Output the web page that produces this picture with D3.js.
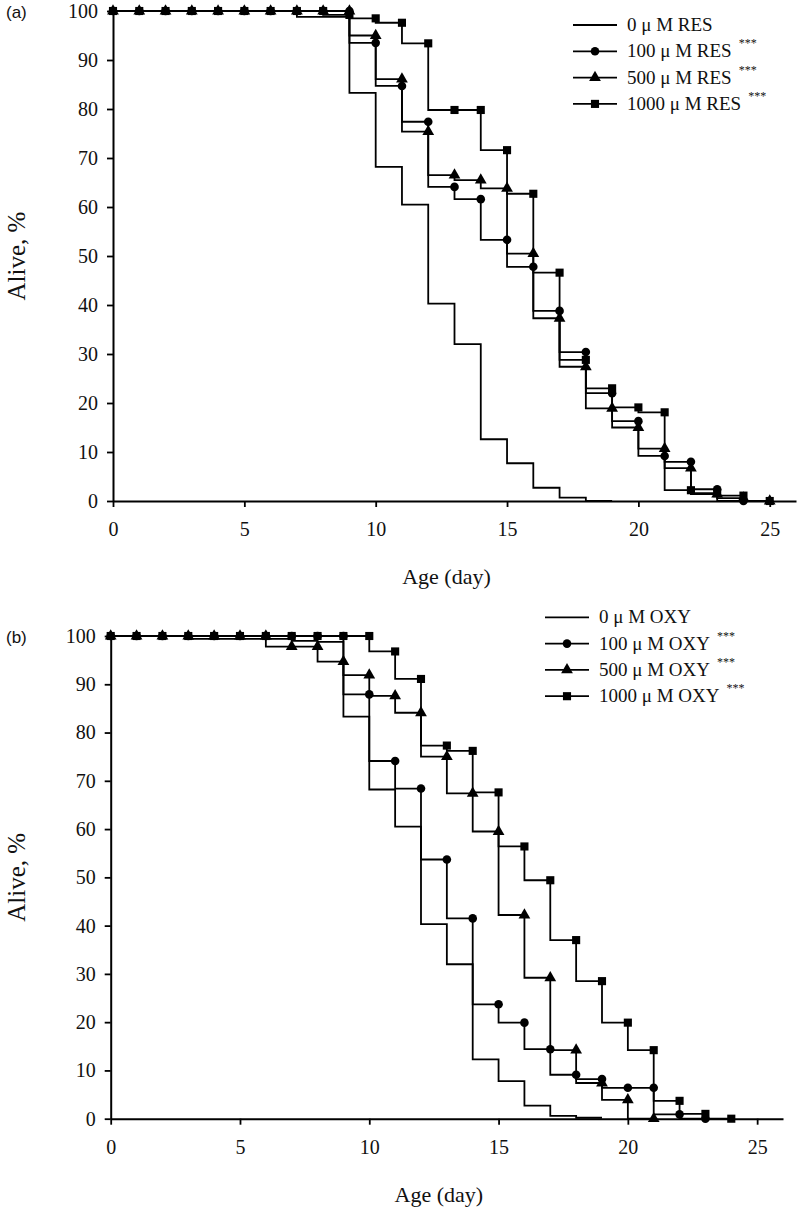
<!DOCTYPE html>
<html>
<head>
<meta charset="utf-8">
<script src="https://cdn.jsdelivr.net/npm/d3@7"></script>
<style>
  html, body { margin: 0; padding: 0; background: #fff; }
  svg { display: block; }
</style>
</head>
<body>
<svg id="chart" width="800" height="1209"></svg>
<script>
// ---------- DATA (value at each day, starting at day 0) ----------
const seriesNamesA = ["0 \u03bc M RES", "100 \u03bc M RES", "500 \u03bc M RES", "1000 \u03bc M RES"];
const seriesNamesB = ["0 \u03bc M OXY", "100 \u03bc M OXY", "500 \u03bc M OXY", "1000 \u03bc M OXY"];
const significance = ["", "***", "***", "***"];
const markerTypes = ["none", "circle", "triangle", "square"];

const ctrlA   = [100,100,100,100,100,100,100,100,98.8,98.8,83.3,68.2,60.5,40.3,32.0,12.6,7.7,2.7,0.7,0];
const res100  = [100,100,100,100,100,100,100,100,100,100,93.5,84.7,77.4,64.1,61.6,53.3,47.8,38.8,30.4,22.0,16.3,9.2,8.0,2.4,0];
const res500  = [100,100,100,100,100,100,100,100,100,100,95.0,86.1,75.4,66.5,65.5,63.8,50.5,37.3,27.4,18.9,15.0,10.7,6.7,1.4,0.6,0];
const res1000 = [100,100,100,100,100,100,100,100,100,99.2,98.5,97.6,93.4,79.8,79.8,71.6,62.7,46.6,28.8,23.0,19.1,18.1,2.2,1.6,1.1,0];

const ctrlB   = [100,100,100,100,99.4,99.4,99.4,99.4,99.0,98.8,83.3,68.2,60.5,40.3,32.0,12.3,7.8,2.7,0.6,0.2];
const oxy100  = [100,100,100,100,100,100,100,100,100,100,87.9,74.1,68.4,53.7,41.5,23.7,19.9,14.4,9.1,8.2,6.4,6.4,0.9,0];
const oxy500  = [100,100,100,100,100,100,100,97.8,97.8,94.7,91.9,87.6,84.1,75.0,67.4,59.5,42.2,29.2,14.2,7.4,3.9,0];
const oxy1000 = [100,100,100,100,100,100,100,100,100,100,100,96.8,91.1,77.3,76.2,67.6,56.4,49.4,37.0,28.5,19.9,14.2,3.7,1.0,0];

const xTicks = [0, 5, 10, 15, 20, 25];
const yTicks = [0, 10, 20, 30, 40, 50, 60, 70, 80, 90, 100];
const xTitle = "Age (day)";
const yTitle = "Alive, %";

// ---------- DRAWING ----------
const svg = d3.select("#chart");
const serif = "'Liberation Serif', 'Times New Roman', serif";
const sans = "'Liberation Sans', Arial, sans-serif";

function symbolFor(t) {
  if (t === "circle") return d3.symbol().type(d3.symbolCircle).size(58)();
  if (t === "triangle") return d3.symbol().type(d3.symbolTriangle).size(60)();
  if (t === "square") return d3.symbol().type(d3.symbolSquare).size(66)();
  return null;
}

function drawPanel(opt) {
  const g = svg.append("g");
  const x = d3.scaleLinear().domain([0, 26]).range([opt.left, opt.right]);
  const y = d3.scaleLinear().domain([0, 100]).range([opt.bottom, opt.top]);

  // axes
  const xAxis = d3.axisBottom(x).tickValues(xTicks).tickSize(6).tickPadding(15).tickSizeOuter(0);
  const yAxis = d3.axisLeft(y).tickValues(yTicks).tickSize(6).tickPadding(9).tickSizeOuter(0);
  const gx = g.append("g").attr("transform", `translate(0,${opt.bottom})`).call(xAxis);
  const gy = g.append("g").attr("transform", `translate(${opt.left},0)`).call(yAxis);
  [gx, gy].forEach(a => {
    a.select(".domain").attr("stroke", "#000").attr("stroke-width", 2);
    a.selectAll(".tick line").attr("stroke", "#000").attr("stroke-width", 1.8);
    a.selectAll(".tick text").attr("fill", "#111").style("font-family", serif).style("font-size", "20px");
  });

  // series
  const line = d3.line()
    .x((d, i) => x(i))
    .y(d => y(d))
    .curve(d3.curveStepBefore);

  opt.series.forEach((s, k) => {
    g.append("path")
      .attr("d", line(s))
      .attr("fill", "none")
      .attr("stroke", "#000")
      .attr("stroke-width", 1.8);
  });
  opt.series.forEach((s, k) => {
    const sym = symbolFor(markerTypes[k]);
    if (!sym) return;
    g.append("g").selectAll("path")
      .data(s)
      .join("path")
      .attr("d", sym)
      .attr("transform", (d, i) => `translate(${x(i)},${y(d)})`)
      .attr("fill", "#000");
  });

  // titles
  g.append("text")
    .attr("x", (opt.left + opt.right) / 2 - 8)
    .attr("y", opt.bottom + 83)
    .attr("text-anchor", "middle")
    .style("font-family", serif).style("font-size", "22px").attr("fill", "#111")
    .text(xTitle);
  g.append("text")
    .attr("transform", `translate(25,${(opt.top + opt.bottom) / 2}) rotate(-90)`)
    .attr("text-anchor", "middle")
    .style("font-family", serif).style("font-size", "25px").attr("fill", "#111")
    .text(yTitle);
  g.append("text")
    .attr("x", 6).attr("y", opt.top + 7)
    .style("font-family", sans).style("font-size", "17px").attr("fill", "#111")
    .text(opt.label);

  // legend
  opt.names.forEach((name, k) => {
    const ly = opt.legY + k * 26.3;
    g.append("line")
      .attr("x1", opt.legX).attr("x2", opt.legX + 44)
      .attr("y1", ly).attr("y2", ly)
      .attr("stroke", "#000").attr("stroke-width", 1.8);
    const sym = symbolFor(markerTypes[k]);
    if (sym) {
      g.append("path").attr("d", sym)
        .attr("transform", `translate(${opt.legX + 22},${ly})`).attr("fill", "#000");
    }
    const t = g.append("text")
      .attr("x", opt.legX + 54).attr("y", ly + 6)
      .style("font-family", serif).style("font-size", "19px").attr("fill", "#111")
      .text(name);
    if (significance[k]) {
      const w = t.node().getComputedTextLength();
      g.append("text")
        .attr("x", opt.legX + 54 + w + 7).attr("y", ly - 4)
        .style("font-family", serif).style("font-size", "12px").attr("fill", "#111")
        .text(significance[k]);
    }
  });
}

drawPanel({
  left: 113, right: 796, top: 11, bottom: 501,
  series: [ctrlA, res100, res500, res1000],
  names: seriesNamesA, label: "(a)",
  legX: 573, legY: 25
});

drawPanel({
  left: 110.7, right: 783, top: 636, bottom: 1118.7,
  series: [ctrlB, oxy100, oxy500, oxy1000],
  names: seriesNamesB, label: "(b)",
  legX: 545, legY: 617.3
});
</script>
</body>
</html>
